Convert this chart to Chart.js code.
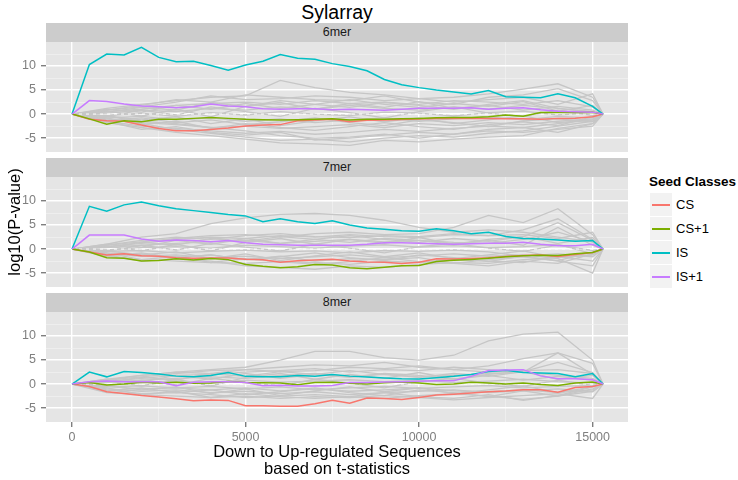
<!DOCTYPE html>
<html>
<head>
<meta charset="utf-8">
<script src="https://cdn.jsdelivr.net/npm/chart.js@4.4.0/dist/chart.umd.min.js"></script>
<style>
    body {margin: 0; width: 738px; height: 480px; background: #fff; position: relative; overflow: hidden;
        font-family: "Liberation Sans", Arial, sans-serif; color: #000;}
    .abs {position: absolute; white-space: nowrap;}
    .strip {position: absolute; left: 46px; width: 582px; height: 19px; line-height: 19px; background: #ccc;
        text-align: center; font-size: 12.5px; color: #1a1a1a;}
    canvas {position: absolute; left: 0;}
</style>
</head>
<body>
<div class="abs" style="left:46px;width:582px;top:0;text-align:center;font-size:19.5px;line-height:24px;">Sylarray</div>
<div class="strip" style="top:23px">6mer</div>
<div class="strip" style="top:158px">7mer</div>
<div class="strip" style="top:293px">8mer</div>
<canvas id="p6" width="640" height="110" style="top:42px"></canvas>
<canvas id="p7" width="640" height="110" style="top:177px"></canvas>
<canvas id="p8" width="640" height="132" style="top:312px"></canvas>
<div class="abs" style="left:46px;width:582px;top:443px;text-align:center;font-size:16.5px;line-height:17px;">Down to Up-regulated Sequences<br>based on t-statistics</div>
<div class="abs" style="left:-86px;top:212px;width:200px;height:20px;line-height:20px;text-align:center;font-size:16.5px;transform:rotate(-90deg);">log10(P-value)</div>
<div id="legend"></div>
<script>
// x positions of the coloured curves and of the grey background curves
const xs = [0, 500, 1000, 1500, 2000, 2500, 3000, 3500, 4000, 4500, 5000, 5500, 6000, 6500, 7000, 7500,
    8000, 8500, 9000, 9500, 10000, 10500, 11000, 11500, 12000, 12500, 13000, 13500, 14000, 14500, 15000, 15300];
const xsGrey = [0, 1000, 2000, 3000, 4000, 5000, 6000, 7000, 8000, 9000, 10000, 11000, 12000, 13000, 14000, 15000, 15300];

const seriesNames = ["CS", "CS+1", "IS", "IS+1"];
const seriesColors = ["#F8766D", "#7CAE00", "#00BFC4", "#C77CFF"];
const xTickValues = [0, 2500, 5000, 7500, 10000, 12500, 15000];
const yTickValues = [-5, -2.5, 0, 2.5, 5, 7.5, 10, 12.5];

// 6mer
const cs6 = [0, -1.1, -1.4, -1.5, -2.3, -3.0, -3.5, -3.5, -3.2, -2.9, -2.5, -2.3, -2.2, -1.4, -1.25, -1.1,
    -1.6, -1.3, -1.25, -1.15, -1.05, -0.95, -0.9, -0.9, -0.9, -1.0, -1.0, -1.1, -0.9, -0.85, -0.55, 0];
const csp6 = [0, -1.0, -2.1, -1.4, -1.6, -1.1, -1.1, -0.9, -0.7, -0.9, -1.1, -1.2, -1.25, -1.2, -1.1, -1.0,
    -1.25, -1.1, -1.1, -1.0, -0.9, -0.75, -0.7, -0.7, -0.55, -0.2, -0.45, 0.3, 0.3, 0.3, 0.35, 0];
const is6 = [0, 10.3, 12.5, 12.3, 13.9, 11.8, 10.9, 11.0, 10.1, 9.1, 10.2, 11.0, 12.4, 11.6, 11.4, 10.5,
    9.9, 9.0, 7.2, 6.1, 5.5, 5.0, 4.6, 4.2, 4.9, 3.6, 3.5, 3.4, 4.2, 3.4, 1.6, 0];
const isp6 = [0, 2.8, 2.6, 2.1, 1.7, 1.5, 1.3, 1.5, 2.1, 1.7, 1.5, 1.1, 1.0, 1.1, 1.1, 0.9,
    1.0, 0.9, 0.8, 1.0, 1.2, 1.2, 1.2, 1.3, 1.0, 1.2, 1.3, 0.9, 0.6, 0.5, 0.4, 0];
const grey6 = [
    [0, 1.2, 2.0, 2.8, 3.5, 3.8, 7.0, 5.5, 4.5, 4.0, 3.2, 3.5, 4.2, 5.2, 6.3, 3.5, 0],
    [0, 0.8, 1.5, 2.5, 3.8, 3.0, 3.2, 3.8, 3.5, 2.8, 3.2, 2.5, 3.0, 3.5, 2.0, 4.2, 0],
    [0, 0.5, 1.0, 1.8, 2.2, 2.5, 2.0, 2.8, 2.2, 2.5, 2.0, 2.8, 2.5, 2.0, 2.8, 1.5, 0],
    [0, 0.2, 0.8, 0.5, 1.2, 0.8, 1.5, 1.0, 1.8, 1.2, 0.8, 1.5, 1.0, 1.8, 1.2, 0.5, 0],
    [0, -0.3, 0.2, -0.5, 0.3, -0.2, 0.5, 0, -0.3, 0.4, 0.2, -0.4, 0.3, 0.6, -0.2, 0.3, 0],
    [0, -0.8, -0.5, -1.2, -0.8, -1.5, -1.0, -1.8, -1.2, -0.8, -1.5, -1.0, -0.6, -1.2, -0.5, -0.8, 0],
    [0, -1.2, -1.8, -2.2, -2.8, -2.5, -3.0, -2.6, -2.2, -2.8, -2.0, -2.4, -1.8, -2.2, -1.5, -1.0, 0],
    [0, -1.5, -2.5, -3.0, -3.5, -4.0, -3.6, -4.2, -3.8, -3.2, -3.6, -3.0, -2.5, -2.8, -2.0, -1.2, 0],
    [0, -1.0, -2.0, -3.2, -4.0, -4.8, -5.5, -5.2, -5.8, -5.0, -4.5, -4.8, -4.0, -3.5, -2.5, -1.5, 0],
    [0, -1.8, -2.8, -3.8, -4.5, -5.2, -6.0, -6.2, -6.5, -5.5, -5.8, -5.2, -4.8, -4.5, -3.0, -2.0, 0],
    [0, -0.5, -1.5, -2.0, -2.8, -3.5, -4.5, -5.0, -4.8, -4.2, -5.0, -4.2, -3.5, -3.8, -3.2, -2.5, 0],
    [0, 0.8, 1.8, 3.0, 2.5, 4.0, 3.5, 3.0, 2.8, 3.8, 2.5, 2.0, 3.5, 4.0, 5.3, 2.8, 0],
    [0, -0.5, 0.8, -0.2, 1.5, 0.5, -0.5, 1.2, 0.3, -0.8, 0.5, 1.5, 0.2, -0.5, 0.8, -0.3, 0],
    [0, 0.6, -0.4, 1.0, -0.6, 1.6, 2.4, 1.0, 2.2, 1.4, 2.6, 1.2, 1.8, 0.8, 1.6, 0.8, 0],
    [0, -1.4, -0.8, -1.8, -1.2, -2.2, -1.6, -0.8, -1.8, -2.4, -1.2, -1.8, -2.6, -1.4, -1.0, -1.6, 0],
    [0, -0.8, -2.2, -1.5, -3.0, -2.0, -2.8, -3.4, -2.6, -1.8, -2.6, -3.2, -2.2, -1.6, -2.4, -0.6, 0],
    [0, 1.0, 0.4, 1.8, 1.0, 2.2, 1.2, 2.0, 3.0, 2.0, 1.4, 2.2, 1.6, 2.6, 0.6, 1.8, 0],
    [0, -0.4, -1.2, -0.6, -2.0, -1.0, -2.4, -1.4, -0.6, -1.6, -0.8, -2.0, -1.2, -0.4, -1.8, -1.2, 0],
    [0, -1.6, -3.2, -2.6, -3.8, -4.4, -3.8, -5.4, -5.0, -4.4, -3.8, -4.2, -3.2, -2.8, -3.8, -2.0, 0],
    [0, 0.4, 1.4, 0.8, 2.4, 1.6, 2.8, 2.0, 1.4, 2.4, 1.8, 1.0, 2.0, 2.8, 1.2, 0.4, 0]
];

// 7mer
const cs7 = [0, -0.6, -1.25, -1.0, -1.4, -1.5, -1.8, -1.9, -1.85, -1.85, -2.1, -2.25, -2.75, -2.45, -2.3, -2.1,
    -2.5, -2.7, -2.75, -3.0, -2.75, -2.0, -2.05, -1.95, -1.8, -1.55, -1.35, -1.25, -1.55, -1.15, -0.7, 0];
const csp7 = [0, -0.6, -1.8, -1.9, -2.5, -2.4, -2.0, -2.3, -1.95, -2.2, -3.2, -3.6, -3.9, -3.7, -3.2, -3.3,
    -3.9, -4.1, -3.8, -3.5, -3.4, -2.6, -2.35, -2.15, -1.9, -1.6, -1.4, -1.3, -1.35, -1.0, -0.7, 0];
const is7 = [0, 8.9, 7.9, 9.2, 9.8, 9.0, 8.4, 8.0, 7.6, 7.2, 6.9, 5.7, 6.3, 5.7, 5.3, 5.9,
    5.0, 4.4, 4.1, 3.8, 3.7, 4.2, 3.8, 3.2, 3.5, 2.6, 2.2, 2.1, 1.9, 1.65, 1.8, 0];
const isp7 = [0, 2.9, 2.9, 2.9, 2.1, 1.6, 1.9, 1.8, 1.5, 1.8, 1.3, 1.0, 0.9, 0.8, 0.8, 0.8,
    0.8, 1.0, 1.3, 1.3, 1.2, 1.1, 1.0, 1.1, 1.2, 1.2, 1.4, 1.0, 0.7, 0.7, 1.0, 0];
const grey7 = [
    [0, 1.0, 2.5, 3.2, 5.3, 6.5, 7.2, 7.4, 7.0, 6.0, 4.5, 3.5, 4.0, 3.5, 2.5, 1.5, 0],
    [0, 0.8, 1.5, 2.2, 2.8, 3.0, 2.5, 3.2, 3.5, 3.0, 3.2, 4.5, 7.0, 5.5, 8.4, 3.0, 0],
    [0, 0.5, 1.2, 2.0, 2.5, 2.2, 2.8, 2.5, 3.0, 2.6, 2.4, 3.0, 2.8, 4.0, 6.3, 2.0, 0],
    [0, 0.3, 0.8, 1.2, 1.5, 1.8, 1.2, 1.6, 2.0, 1.5, 1.8, 1.4, 1.2, 2.0, 3.5, 1.5, 0],
    [0, -0.2, 0.3, 0.5, 0.2, 0.8, 0.5, 0.2, 0.6, 0.9, 0.4, 0.7, 0.3, 0.5, 1.0, -1.0, 0],
    [0, -0.5, -0.3, -0.8, -0.5, -0.2, -0.6, -0.4, -0.8, -0.3, -0.5, -0.2, -0.6, -1.5, -2.5, -3.5, 0],
    [0, -1.0, -1.5, -1.2, -1.8, -1.5, -2.0, -1.6, -1.2, -1.8, -1.4, -1.0, -1.5, -1.2, -2.0, -5.0, 0],
    [0, -1.5, -2.2, -2.5, -2.8, -3.0, -2.6, -2.8, -3.2, -2.5, -2.8, -2.2, -2.5, -2.8, -1.5, -2.5, 0],
    [0, -1.2, -2.5, -2.0, -2.5, -3.5, -3.8, -4.2, -3.5, -3.8, -3.2, -2.8, -3.0, -2.2, -1.8, -1.2, 0],
    [0, 0.8, 1.8, 2.5, 2.0, 2.8, 3.2, 2.6, 2.4, 2.8, 2.6, 3.2, 2.8, 3.0, 2.2, 3.5, 0],
    [0, -0.8, -1.0, -1.8, -1.2, -2.2, -1.5, -2.5, -2.0, -2.2, -1.8, -3.0, -3.5, -2.5, -3.0, -1.0, 0],
    [0, -0.5, 0.8, -0.2, 1.2, 0.4, -0.4, 1.0, 0.2, -0.8, 0.5, 1.2, 0.2, -0.5, 0.8, -0.3, 0],
    [0, 0.6, -0.4, 1.0, -0.4, 1.4, 2.2, 1.0, 2.0, 1.2, 2.4, 1.0, 1.8, 0.8, 4.5, 0.8, 0],
    [0, -1.4, -0.8, -1.8, -1.2, -2.2, -1.6, -0.8, -1.8, -2.4, -1.2, -1.8, -2.6, -1.4, -1.0, -1.6, 0],
    [0, -0.8, -2.2, -1.5, -2.8, -2.0, -2.6, -3.2, -2.6, -1.8, -2.6, -3.0, -2.2, -1.6, -2.4, -0.6, 0],
    [0, 1.0, 0.4, 1.8, 1.0, 2.2, 1.2, 2.0, 2.8, 2.0, 1.4, 2.2, 1.6, 2.6, 5.5, 1.8, 0],
    [0, -0.4, -1.2, -0.6, -2.0, -1.0, -2.4, -1.4, -0.6, -1.6, -0.8, -2.0, -1.2, -0.4, -1.8, -1.2, 0],
    [0, 0.4, 1.4, 0.8, 2.2, 1.6, 2.6, 2.0, 1.4, 2.2, 1.8, 1.0, 2.0, 2.6, 1.2, 2.4, 0]
];

// 8mer
const cs8 = [0, -0.5, -1.6, -1.95, -2.4, -2.7, -3.05, -3.5, -3.3, -3.4, -4.5, -4.5, -4.6, -4.6, -4.1, -3.4,
    -4.0, -2.9, -3.0, -3.2, -2.8, -2.3, -2.1, -1.85, -1.6, -1.45, -1.2, -1.2, -1.7, -0.7, -0.5, 0];
const csp8 = [0, 0.3, -0.2, 0.0, 0.4, 0.2, 0.35, 0.15, 0.2, 0.55, 0.3, 0.25, 0.2, -0.15, 0.3, 0.4,
    0.15, 0.0, 0.25, 0.45, 0.2, -0.1, 0.0, 0.4, 0.2, 0.0, 0.2, -0.1, -0.3, 0.2, 0.45, 0];
const is8 = [0, 2.5, 1.5, 2.6, 2.4, 2.1, 1.65, 1.5, 1.8, 2.4, 1.6, 1.5, 1.5, 1.8, 1.6, 2.0,
    1.65, 1.45, 1.25, 1.1, 1.05, 1.3, 1.6, 2.0, 2.6, 2.85, 2.4, 2.3, 2.2, 1.5, 2.2, 0];
const isp8 = [0, 0.5, 0.65, 0.5, 0.5, 0.5, -0.35, 0.35, 0.5, 0.5, 0.3, -0.35, -0.25, -0.4, -0.4, -0.3,
    0.3, 0.3, 0.45, 0.5, 0.6, 0.7, 0.7, 1.6, 2.8, 2.9, 3.0, 1.7, 1.1, 1.1, 0.9, 0];
const grey8 = [
    [0, 1.0, 1.8, 2.5, 3.0, 3.5, 5.0, 6.8, 6.8, 5.5, 5.0, 6.0, 9.0, 10.4, 10.8, 5.0, 0],
    [0, 0.8, 1.5, 2.2, 2.8, 3.0, 3.5, 4.0, 3.8, 4.5, 3.5, 3.0, 3.8, 5.3, 6.5, 4.3, 0],
    [0, 0.5, 1.2, 1.8, 2.0, 2.5, 2.8, 3.2, 2.5, 3.0, 2.8, 3.5, 3.0, 2.5, 6.5, 2.0, 0],
    [0, 0.3, 0.8, 1.2, 1.5, 1.2, 1.8, 2.2, 1.6, 2.0, 1.5, 1.8, 2.2, 2.5, 1.8, 1.2, 0],
    [0, -0.2, 0.3, 0.6, 0.2, 0.8, 0.4, 0.6, 0.9, 0.5, 0.8, 0.3, 0.6, 1.0, 0.5, 0.2, 0],
    [0, -0.6, -0.4, -0.8, -0.5, -1.0, -0.6, -1.2, -0.8, -0.5, -0.9, -0.6, -0.3, -0.8, -0.5, -0.3, 0],
    [0, -1.0, -1.5, -1.2, -1.8, -1.5, -2.0, -1.6, -2.2, -1.8, -1.5, -1.2, -1.8, -1.4, -2.5, -1.0, 0],
    [0, -1.8, -2.2, -2.5, -2.8, -2.5, -3.0, -2.6, -2.8, -2.4, -2.8, -3.3, -2.8, -2.4, -2.0, -3.0, 0],
    [0, -1.2, -2.0, -1.8, -2.2, -2.8, -2.5, -2.2, -2.6, -3.0, -2.4, -2.0, -2.5, -3.2, -2.5, -1.5, 0],
    [0, 0.8, 1.8, 2.5, 2.2, 3.0, 2.6, 2.8, 3.5, 3.2, 3.8, 3.0, 2.5, 2.8, 3.0, 2.2, 0],
    [0, -0.5, -1.0, -0.8, -1.2, -0.8, -1.4, -1.0, -1.5, -1.2, -0.8, -1.4, -1.6, -1.2, -1.8, -0.6, 0],
    [0, -0.5, 0.8, -0.2, 1.2, 0.4, -0.4, 1.0, 0.2, -0.8, 0.5, 1.2, 0.2, -0.5, 0.8, -0.3, 0],
    [0, 0.6, -0.4, 1.0, -0.4, 1.4, 2.2, 1.0, 2.0, 1.2, 2.4, 1.0, 1.8, 0.8, 1.6, 0.8, 0],
    [0, -1.4, -0.8, -1.8, -1.2, -2.2, -1.6, -0.8, -1.8, -2.4, -1.2, -1.8, -2.6, -1.4, -1.0, -1.6, 0],
    [0, -0.8, -2.2, -1.5, -2.8, -2.0, -2.6, -3.0, -2.6, -1.8, -2.6, -3.0, -2.2, -3.4, -2.4, -0.6, 0],
    [0, 1.0, 0.4, 1.8, 1.0, 2.2, 1.2, 2.0, 2.8, 2.0, 1.4, 2.2, 1.6, 2.6, 1.0, 1.8, 0],
    [0, -0.4, -1.2, -0.6, -2.0, -1.0, -2.4, -1.4, -0.6, -1.6, -0.8, -2.0, -1.2, -0.4, -1.8, -1.2, 0],
    [0, 0.4, 1.4, 0.8, 2.2, 1.6, 2.6, 2.0, 1.4, 2.2, 1.8, 1.0, 2.0, 2.6, 4.5, 2.4, 0]
];

const tickGrey = "#7F7F7F";

function points(xValues, yValues) {
    return yValues.map((y, i) => ({x: xValues[i], y: y}));
}

const panelBackground = {
    id: "panelBackground",
    beforeDraw(chart) {
        const {ctx, chartArea: a} = chart;
        ctx.save();
        ctx.fillStyle = "#E5E5E5";
        ctx.fillRect(a.left, a.top, a.right - a.left, a.bottom - a.top);
        ctx.restore();
    }
};

function gridOptions(isMajor, showTicks) {
    return {
        color: ctx => isMajor(ctx.tick.value) ? "#FFFFFF" : "#F2F2F2",
        lineWidth: ctx => isMajor(ctx.tick.value) ? 1.4 : 0.7,
        tickColor: ctx => isMajor(ctx.tick.value) ? tickGrey : "rgba(0,0,0,0)",
        tickLength: 5,
        drawTicks: showTicks,
    };
}

// the panels must fill their canvas exactly, so drop the label overhang padding
function noOverhang(s) {
    s.paddingTop = 0;
    s.paddingBottom = 0;
    s.paddingLeft = 0;
    s.paddingRight = 0;
}

function renderPanel(id, coloured, greys, showX) {
    const datasets = [];
    // first dataset is painted last, so the coloured curves go first
    [3, 2, 1, 0].forEach(i => {
        datasets.push({
            data: points(xs, coloured[i]),
            borderColor: seriesColors[i],
            borderWidth: 1.5,
        });
    });
    datasets.push({
        data: [{x: 0, y: 0}, {x: 15300, y: 0}],
        borderColor: "#FFFFFF",
        borderWidth: 1,
        borderDash: [3, 4],
    });
    greys.forEach(g => {
        datasets.push({
            data: points(xsGrey, g),
            borderColor: "#C6C6C6",
            borderWidth: 1.3,
        });
    });

    const majorX = v => v % 5000 === 0;
    const majorY = v => v % 5 === 0;

    new Chart(document.getElementById(id), {
        type: "line",
        data: {datasets},
        plugins: [panelBackground],
        options: {
            responsive: false,
            animation: false,
            layout: {padding: {left: 0, right: 12, top: 0, bottom: 0}},
            elements: {point: {radius: 0}, line: {tension: 0}},
            plugins: {legend: {display: false}, tooltip: {enabled: false}},
            scales: {
                x: {
                    type: "linear",
                    min: -750,
                    max: 16020,
                    afterBuildTicks: s => { s.ticks = xTickValues.map(v => ({value: v})); },
                    afterFit: s => { s.height = showX ? 22 : 0; noOverhang(s); },
                    grid: gridOptions(majorX, showX),
                    border: {display: false},
                    ticks: {
                        display: showX,
                        autoSkip: false,
                        maxRotation: 0,
                        padding: 3,
                        color: tickGrey,
                        font: {family: "Liberation Sans", size: 12.5},
                        callback: v => majorX(v) ? String(v) : "",
                    },
                },
                y: {
                    min: -7.9,
                    max: 15,
                    afterBuildTicks: s => { s.ticks = yTickValues.map(v => ({value: v})); },
                    afterFit: s => { s.width = 46; noOverhang(s); },
                    grid: gridOptions(majorY, true),
                    border: {display: false},
                    ticks: {
                        autoSkip: false,
                        padding: 5,
                        color: tickGrey,
                        font: {family: "Liberation Sans", size: 12.5},
                        callback: v => majorY(v) ? String(v) : "",
                    },
                },
            },
        },
    });
}

function renderLegend() {
    const legend = document.getElementById("legend");
    const title = document.createElement("div");
    title.className = "abs";
    title.style.cssText = "left:649px;top:173px;font-weight:bold;font-size:13.5px;line-height:18px;";
    title.innerText = "Seed Classes";
    legend.appendChild(title);

    seriesNames.forEach((name, i) => {
        const top = 193 + i * 24;
        const key = document.createElement("div");
        key.className = "abs";
        key.style.cssText = `left:650px;top:${top}px;width:22px;height:23px;background:#F2F2F2;`;
        const line = document.createElement("div");
        line.className = "abs";
        line.style.cssText = `left:2px;top:11px;width:18px;height:1.5px;background:${seriesColors[i]};`;
        key.appendChild(line);

        const label = document.createElement("div");
        label.className = "abs";
        label.style.cssText = `left:676px;top:${top + 3}px;font-size:13px;line-height:17px;`;
        label.innerText = name;
        legend.append(key, label);
    });
}

renderPanel("p6", [cs6, csp6, is6, isp6], grey6, false);
renderPanel("p7", [cs7, csp7, is7, isp7], grey7, false);
renderPanel("p8", [cs8, csp8, is8, isp8], grey8, true);
renderLegend();
</script>
</body>
</html>
